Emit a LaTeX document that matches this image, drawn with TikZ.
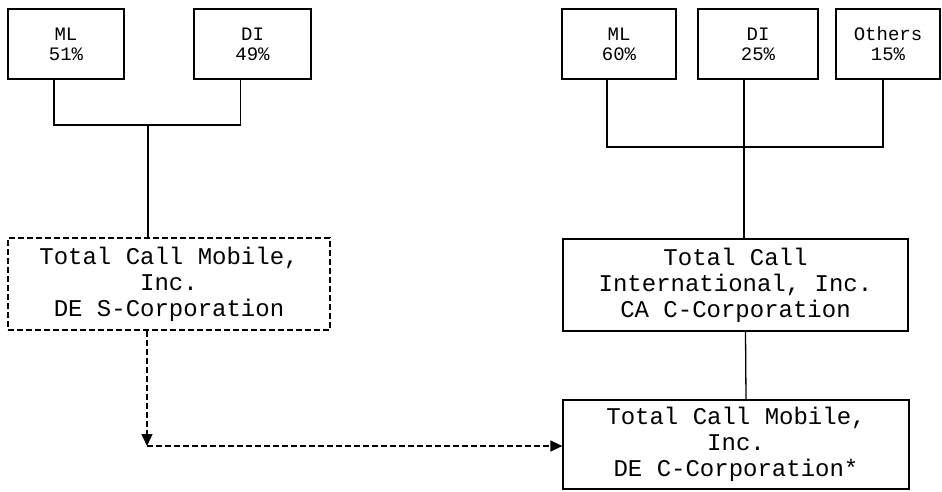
\documentclass[tikz,border=0pt]{standalone}
\usepackage{fontspec}
\setmonofont{Liberation Mono}
\usetikzlibrary{positioning,arrows.meta}

\begin{document}
\begin{tikzpicture}[x=1pt,y=-1pt,
    share/.style={draw, line width=1.3pt, minimum height=70pt, inner sep=0pt, align=center,
        font=\ttfamily\fontsize{19}{20}\selectfont},
    entity/.style={draw, line width=1.3pt, inner sep=0pt, align=center,
        font=\ttfamily\fontsize{24}{26}\selectfont},
    link/.style={line width=1.3pt},
    flow/.style={line width=1.4pt, dash pattern=on 6pt off 3pt, -{Triangle[length=12pt,width=11pt]}}]
\useasboundingbox (0,0) rectangle (942,491);

% Shareholders
\node[share, minimum width=116pt] (ml1) at (66,44) {ML\\51\%};
\node[share, minimum width=117pt] (di1) at (252.5,44) {DI\\49\%};
\node[share, minimum width=114pt] (ml2) at (619,44) {ML\\60\%};
\node[share, minimum width=120pt] (di2) at (758,44) {DI\\25\%};
\node[share, minimum width=104pt] (oth) at (888,44) {Others\\15\%};

% Companies
\node[entity, dash pattern=on 6pt off 3pt, minimum width=322pt, minimum height=92pt] (tcm) at (169,284)
    {Total Call Mobile,\\Inc.\\DE S-Corporation};
\node[entity, minimum width=345pt, minimum height=92pt] (tci) at (735.5,285)
    {Total Call\\International, Inc.\\CA C-Corporation};
\node[entity, minimum width=346pt, minimum height=89pt] (tcmc) at (736,444.5)
    {Total Call Mobile,\\Inc.\\DE C-Corporation*};

% Ownership lines
\coordinate (j1) at (148,125);
\coordinate (j2) at (744,147);
\draw[link] ([xshift=-12pt]ml1.south) |- (j1) -| ([xshift=-12pt]di1.south);
\draw[link] (j1) -- (j1 |- tcm.north);
\draw[link] ([xshift=-12pt]ml2.south) |- (j2) -| ([xshift=-5pt]oth.south);
\draw[link] ([xshift=-14pt]di2.south) -- (j2 |- tci.north);
\draw[link] ([xshift=10pt]tci.south) -- ([xshift=10pt]tcmc.north);

% Conversion
\coordinate (turn) at (147,446);
\draw[flow] (tcm.south -| turn) -- (turn);
\draw[flow] (turn) -- (turn -| tcmc.west);
\end{tikzpicture}
\end{document}
